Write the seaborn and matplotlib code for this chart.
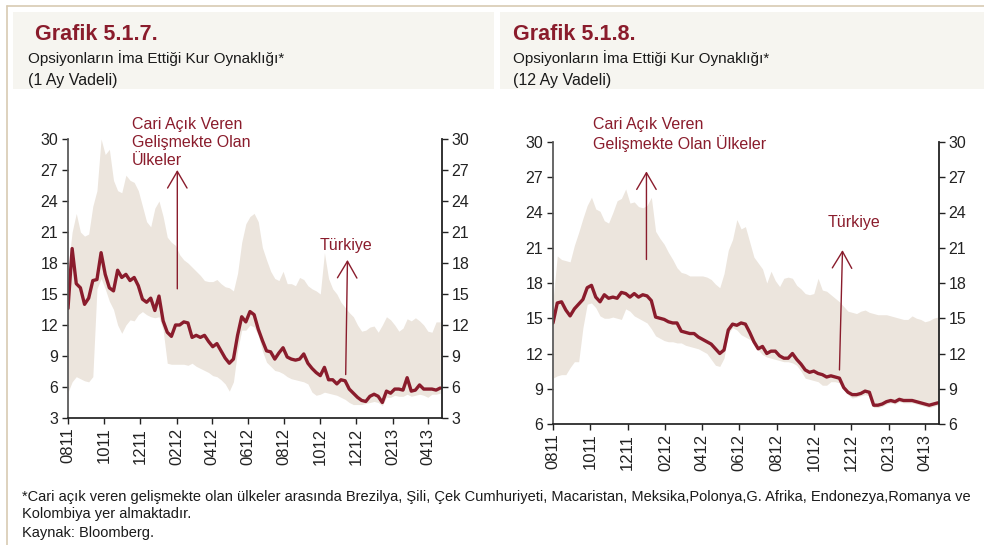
import pandas as pd
import numpy as np
import matplotlib
matplotlib.use("Agg")
import matplotlib.pyplot as plt
from matplotlib.patches import Rectangle
from matplotlib.lines import Line2D
import seaborn as sns

# haftalik veriler, 2011-08-01'den itibaren
tarihler = pd.date_range("2011-08-01", periods=91, freq="7D")

tr_1ay = [13.6, 19.4, 16.0, 15.6, 14.0, 14.6, 16.3, 16.4, 19.0, 16.9,
          15.6, 15.3, 17.3, 16.6, 16.9, 16.3, 16.6, 15.8, 14.5, 14.2,
          14.6, 13.4, 14.8, 12.4, 11.3, 10.9, 12.0, 12.0, 12.3, 12.2,
          10.8, 11.0, 10.8, 11.0, 10.4, 9.9, 10.2, 9.5, 8.8, 8.3,
          8.7, 11.0, 12.8, 12.3, 13.3, 13.0, 11.6, 10.5, 9.5, 9.4,
          8.7, 9.3, 9.8, 8.9, 8.7, 8.6, 8.7, 9.2, 8.3, 7.8,
          7.4, 7.1, 7.9, 6.7, 6.7, 6.3, 6.7, 6.6, 5.8, 5.4,
          5.0, 4.7, 4.6, 5.1, 5.3, 5.1, 4.5, 5.6, 5.4, 5.8,
          5.8, 5.7, 6.9, 5.6, 5.7, 6.2, 5.8, 5.8, 5.8, 5.7,
          5.9]
ust_1ay = [17.5, 21.0, 22.8, 21.0, 20.6, 20.8, 23.5, 25.0, 30.0, 28.5,
           29.0, 26.0, 25.0, 24.8, 26.5, 26.0, 25.8, 25.0, 23.5, 22.0,
           21.5, 23.3, 24.0, 22.5, 20.5, 20.0, 19.7, 18.8, 18.3, 18.0,
           17.6, 17.2, 16.8, 16.3, 16.2, 16.2, 16.4, 16.0, 15.7, 15.6,
           15.3, 17.0, 20.0, 21.8, 22.5, 22.8, 22.0, 19.5, 18.3, 17.2,
           16.5, 16.3, 17.2, 16.0, 16.0, 15.8, 16.6, 16.4, 15.8, 15.5,
           15.3, 15.0, 19.0, 16.5, 15.5, 15.0, 14.2, 13.7, 13.2, 12.8,
           12.0, 11.4, 11.5, 11.8, 11.9, 11.3, 12.0, 12.8, 12.5, 12.0,
           11.4, 11.7, 12.6, 12.4, 12.7, 12.4, 12.0, 11.4, 11.3, 12.3,
           12.3]
alt_1ay = [5.5, 6.5, 7.0, 6.8, 6.6, 6.5, 7.0, 15.5, 16.5, 15.5,
           14.3, 13.5, 12.0, 11.2, 12.0, 12.5, 12.4, 13.0, 13.3, 13.0,
           12.8, 12.7, 12.8, 11.5, 8.3, 8.2, 8.2, 8.2, 8.2, 8.1,
           8.3, 8.0, 7.8, 7.6, 7.4, 7.1, 7.0, 6.7, 6.3, 5.6,
           6.5, 9.5, 11.5, 11.5, 12.0, 11.8, 11.0, 9.5, 8.4, 8.0,
           7.6, 7.5, 7.3, 7.0, 6.8, 6.7, 6.6, 6.5, 6.3, 5.5,
           5.2, 5.3, 5.5, 5.4, 5.3, 5.2, 5.0, 4.8, 4.5, 4.3,
           4.3, 4.3, 4.4, 4.5, 4.6, 4.5, 4.2, 5.0, 5.0, 5.2,
           5.1, 5.1, 5.3, 5.1, 5.2, 5.3, 5.2, 5.0, 5.3, 5.3,
           5.4]

tr_12ay = [14.6, 16.3, 16.4, 15.7, 15.2, 15.8, 16.2, 16.6, 17.6, 17.8,
           16.8, 16.4, 17.0, 16.7, 16.8, 16.7, 17.2, 17.1, 16.8, 17.1,
           16.8, 17.0, 16.9, 16.5, 15.1, 15.0, 14.9, 14.7, 14.6, 14.6,
           13.9, 13.8, 13.7, 13.7, 13.4, 13.2, 13.0, 12.8, 12.4, 12.0,
           12.3, 14.0, 14.5, 14.4, 14.6, 14.5, 13.8, 13.0, 12.4, 12.6,
           12.0, 12.2, 12.2, 11.8, 11.6, 11.6, 12.0, 11.5, 11.1, 10.6,
           10.4, 10.5, 10.3, 10.2, 10.0, 10.1, 10.0, 9.9, 9.1, 8.7,
           8.5, 8.5, 8.6, 8.8, 8.7, 7.6, 7.6, 7.7, 7.9, 8.0,
           7.9, 8.1, 8.0, 8.0, 8.0, 7.9, 7.8, 7.7, 7.6, 7.7,
           7.8]
ust_12ay = [16.5, 20.3, 20.0, 19.9, 19.8, 21.2, 22.3, 23.5, 24.6, 25.3,
            24.3, 24.1, 23.3, 23.1, 24.0, 25.0, 25.2, 26.0, 24.8, 24.9,
            24.5, 24.4, 24.6, 25.3, 22.4, 21.8, 21.3, 20.6, 20.0, 19.3,
            18.9, 18.8, 18.6, 18.6, 18.6, 18.6, 18.5, 18.3, 17.9, 17.6,
            18.8, 20.8, 21.7, 23.4, 22.6, 22.8, 21.5, 20.2, 19.7, 19.2,
            18.0, 19.0, 18.2, 17.7, 18.4, 18.5, 18.4, 17.8, 17.5, 17.1,
            17.0, 17.1, 18.4, 17.4, 17.3, 17.0, 16.7, 16.4, 16.0, 15.6,
            15.5, 15.4, 15.6, 15.7, 15.5, 15.4, 15.3, 15.3, 15.3, 15.2,
            15.1, 15.0, 14.9, 14.9, 15.2, 15.0, 14.9, 14.7, 14.8, 15.0,
            15.1]
alt_12ay = [9.9, 10.1, 10.2, 10.2, 10.8, 11.3, 11.3, 14.2, 16.2, 16.3,
            15.9, 15.2, 15.0, 15.0, 15.1, 15.0, 14.9, 15.8, 15.6, 15.2,
            15.0, 14.8, 14.6, 14.1, 13.5, 13.3, 13.1, 13.0, 13.0, 12.9,
            12.9, 12.7, 12.6, 12.5, 12.4, 12.2, 12.0, 11.5, 11.0, 10.9,
            11.6, 13.7, 14.2, 14.0, 13.6, 13.4, 13.2, 12.9, 12.3, 11.9,
            11.7, 11.6, 11.5, 11.4, 11.3, 11.3, 11.2, 11.0, 10.5, 9.9,
            9.8, 9.7, 9.6, 9.3, 9.3, 9.6, 9.6, 9.5, 8.9, 8.5,
            8.2, 8.3, 8.4, 8.5, 8.4, 7.4, 7.4, 7.5, 7.7, 7.8,
            7.7, 7.9, 7.8, 7.8, 7.8, 7.7, 7.6, 7.5, 7.4, 7.5,
            7.6]

x_ticks = pd.date_range("2011-08-01", "2013-04-01", freq="2MS")
tick_labels = [d.strftime("%m%y") for d in x_ticks]

KIRMIZI = "#8A1C2C"
BANT = "#ECE5DD"
W, H = 984, 545

sns.set_theme(style="white")
plt.rcParams["font.family"] = ["Liberation Sans", "DejaVu Sans"]


def fx(px):
    return px / W


def fy(py):
    return 1 - py / H


def draw_panel(fig, rect, df, ylim, yticks, xend, ann_text, ann_xy, arrows, tr_xy):
    ax = fig.add_axes(rect)
    ax.fill_between(df["tarih"], df["alt"], df["ust"], color=BANT, lw=0)
    sns.lineplot(data=df, x="tarih", y="turkiye", ax=ax, color=KIRMIZI, lw=2.4)
    ax.set_xlim(pd.Timestamp("2011-08-01"), pd.Timestamp(xend))
    ax.set_ylim(*ylim)
    ax.set_yticks(yticks)
    ax.set_xticks(x_ticks)
    ax.set_xticklabels(tick_labels, rotation=90, fontsize=12)
    ax.set_xlabel("")
    ax.set_ylabel("")
    ax.tick_params(axis="y", labelsize=11.5, direction="out", length=4, width=1,
                   left=True, colors="#222222", pad=3)
    ax.tick_params(axis="x", direction="out", length=4, width=1, bottom=True,
                   colors="#222222", pad=3)
    ax.spines["top"].set_visible(False)
    ax.spines["right"].set_visible(False)
    ax.spines["left"].set_color("#555555")
    ax.spines["bottom"].set_color("#222222")

    ax2 = ax.twinx()
    ax2.set_ylim(*ylim)
    ax2.set_yticks(yticks)
    ax2.tick_params(axis="y", labelsize=11.5, direction="out", length=4, width=1,
                    right=True, colors="#222222", pad=3)
    ax2.grid(False)
    for s in ["top", "left", "bottom"]:
        ax2.spines[s].set_visible(False)
    ax2.spines["right"].set_color("#222222")
    ax2.spines["right"].set_linewidth(1.3)

    ax.text(ann_xy[0], ann_xy[1], ann_text, transform=ax.transAxes, color=KIRMIZI,
            fontsize=11.5, va="top", ha="left", linespacing=1.25, clip_on=False)
    ax.text(tr_xy[0], tr_xy[1], "Türkiye", transform=ax.transAxes, color=KIRMIZI,
            fontsize=11.5, va="center", ha="left", clip_on=False)
    for (d0, v0, d1, v1) in arrows:
        ax.annotate("", xy=(pd.Timestamp(d1), v1), xytext=(pd.Timestamp(d0), v0),
                    arrowprops=dict(arrowstyle="->,head_length=1.2,head_width=0.7",
                                    color=KIRMIZI, lw=1.0, mutation_scale=10,
                                    shrinkA=0, shrinkB=0),
                    annotation_clip=False)
    return ax


fig = plt.figure(figsize=(W / 100, H / 100), dpi=100)
fig.patch.set_facecolor("white")

# cerceve ve baslik kutulari
fig.add_artist(Line2D([fx(7), fx(984)], [fy(5.5), fy(5.5)], color="#D8CBB3", lw=1.2))
fig.add_artist(Line2D([fx(7), fx(7)], [fy(5.5), fy(545)], color="#D8CBB3", lw=1.2))
fig.add_artist(Rectangle((fx(13), fy(89)), fx(494 - 13), (89 - 12) / H,
                         color="#F6F5F0", lw=0, zorder=0))
fig.add_artist(Rectangle((fx(500), fy(89)), fx(984 - 500), (89 - 12) / H,
                         color="#F6F5F0", lw=0, zorder=0))

for x0, x1, baslik, vade in [(35, 28, "Grafik 5.1.7.", "(1 Ay Vadeli)"),
                             (513, 513, "Grafik 5.1.8.", "(12 Ay Vadeli)")]:
    fig.text(fx(x0), fy(34), baslik, color=KIRMIZI, fontsize=15.5, fontweight="bold",
             va="center", ha="left")
    fig.text(fx(x1), fy(58), "Opsiyonların İma Ettiği Kur Oynaklığı*", color="#1a1a1a",
             fontsize=11, va="center", ha="left")
    fig.text(fx(x1), fy(81), vade, color="#1a1a1a", fontsize=11.5, va="center", ha="left")

df1 = pd.DataFrame({"tarih": tarihler, "turkiye": tr_1ay, "ust": ust_1ay, "alt": alt_1ay})
df2 = pd.DataFrame({"tarih": tarihler, "turkiye": tr_12ay, "ust": ust_12ay, "alt": alt_12ay})

draw_panel(fig, [fx(68), fy(418), fx(442 - 68), (418 - 139) / H], df1,
           (3, 30), np.arange(3, 31, 3), "2013-04-25",
           "Cari Açık Veren\nGelişmekte Olan\nÜlkeler", (0.171, 1.078),
           [("2012-02-02", 15.5, "2012-02-02", 27.0),
            ("2012-11-13", 7.2, "2012-11-16", 18.3)],
           (0.674, 0.62))

draw_panel(fig, [fx(553), fy(424), fx(939 - 553), (424 - 142) / H], df2,
           (6, 30), np.arange(6, 31, 3), "2013-04-24",
           "Cari Açık Veren\nGelişmekte Olan Ülkeler", (0.104, 1.09),
           [("2012-01-01", 20.0, "2012-01-01", 27.5),
            ("2012-11-12", 10.6, "2012-11-17", 20.8)],
           (0.712, 0.713))

fig.text(fx(22), fy(497), "*Cari açık veren gelişmekte olan ülkeler arasında Brezilya, Şili, "
         "Çek Cumhuriyeti, Macaristan, Meksika,Polonya,G. Afrika, Endonezya,Romanya ve",
         fontsize=10.5, color="#1a1a1a", va="center", ha="left")
fig.text(fx(22), fy(514), "Kolombiya yer almaktadır.", fontsize=10.5, color="#1a1a1a",
         va="center", ha="left")
fig.text(fx(22), fy(533), "Kaynak: Bloomberg.", fontsize=10.5, color="#1a1a1a",
         va="center", ha="left")

fig.savefig("out.png", dpi=100)
